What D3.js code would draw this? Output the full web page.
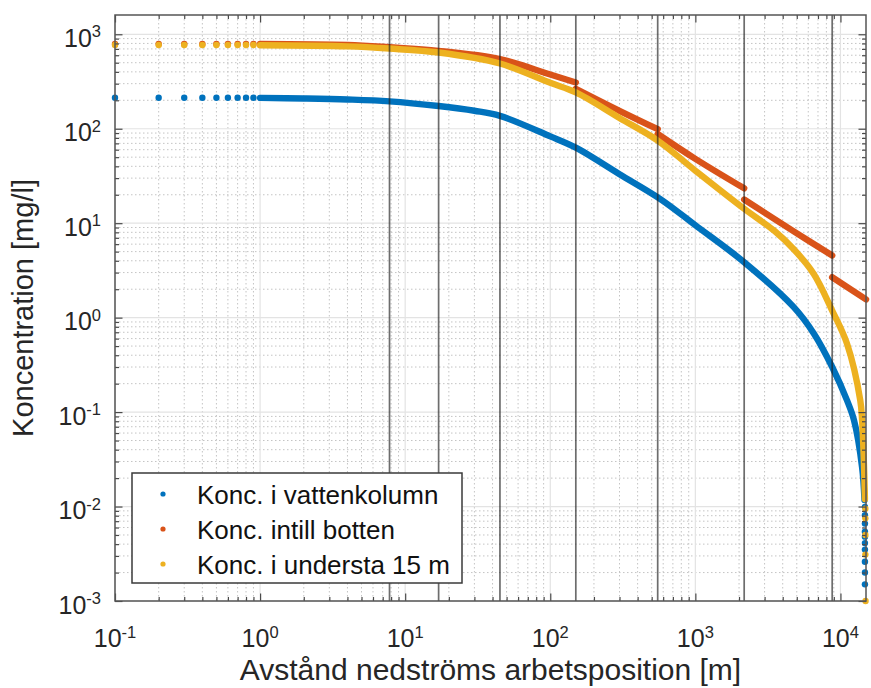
<!DOCTYPE html>
<html>
<head>
<meta charset="utf-8">
<script src="https://cdn.jsdelivr.net/npm/d3@7"></script>
<style>
  body { margin: 0; background: #fff; }
  svg { display: block; font-family: "Liberation Sans", Arial, Helvetica, sans-serif; }
</style>
</head>
<body>
<svg id="chart" width="871" height="688"></svg>
<script>
// Values: distance [m] and concentration [mg/l]
const sparseDist = [0.1, 0.2, 0.3, 0.4, 0.5, 0.6, 0.7, 0.8, 0.9];
const vattenSparse = [213, 213, 213, 213, 213, 213, 213, 213, 213];
const bottenSparse = [790, 790, 790, 790, 790, 790, 790, 790, 790];
const understaSparse = [770, 770, 770, 770, 770, 770, 770, 770, 770];

// dense part of each series (the dots merge into a thick band)
const vattenCurve = [[1, 212], [2, 209], [4, 204], [7.8, 195], [17, 174], [30, 155], [45, 137],
  [100, 83], [150, 63], [300, 33], [574, 18], [1000, 9.5], [2170, 3.86], [4766, 1.29],
  [6550, 0.68], [8770, 0.30], [11100, 0.133], [12400, 0.082], [14100, 0.026], [14650, 0.0117]];

// bottom concentration jumps at each work position
const bottenCurve = [
  [[1, 790], [4, 770], [7.8, 728], [17, 668], [45, 546], [100, 375], [150, 309]],
  [[150, 265], [300, 155], [550, 99]],
  [[550, 88], [1000, 48], [2170, 23.4]],
  [[2170, 17.8], [4766, 8.2], [8770, 4.55]],
  [[8770, 2.68], [15000, 1.56]]
];

const understaCurve = [[1, 765], [4, 745], [7.8, 706], [17, 641], [45, 490], [100, 306],
  [150, 242], [300, 130], [550, 75], [1000, 36], [2170, 14.2], [3500, 8.3], [4766, 5.3],
  [6550, 2.9], [8770, 1.19], [11100, 0.53], [13700, 0.133], [14100, 0.082], [14500, 0.03], [14750, 0.012]];

// last points, stacked at the end of the reach
const vattenTail = [[14750, 0.0099], [14750, 0.0081], [14750, 0.0066], [14750, 0.0054],
  [14750, 0.0048], [14750, 0.0041], [14750, 0.0035], [14750, 0.0026], [14750, 0.0020], [14750, 0.0015]];
const understaTail = [[14850, 0.0095], [14850, 0.0075], [14850, 0.0050], [14850, 0.0031], [14900, 0.001]];

// vertical marker lines (work positions)
const breakDist = [7.8, 17, 45, 150, 550, 2170, 8770];

const xExp = [-1, 0, 1, 2, 3, 4];
const yExp = [-3, -2, -1, 0, 1, 2, 3];

const seriesNames = ['Konc. i vattenkolumn', 'Konc. intill botten', 'Konc. i understa 15 m'];
const seriesColors = ['#0072BD', '#D95319', '#EDB120'];

// layout
const pLeft = 115, pRight = 866, pTop = 15, pBottom = 601;
const svg = d3.select('#chart');

const x = d3.scaleLog().domain([0.1, 15000]).range([pLeft, pRight]);
const y = d3.scaleLog().domain([1e-3, 1600]).range([pBottom, pTop]);

// major and minor tick values
const xMajor = xExp.map(e => Math.pow(10, e));
const yMajor = yExp.map(e => Math.pow(10, e));
const minorOf = (exps, dom) => {
  const out = [];
  exps.forEach(e => d3.range(2, 10).forEach(m => {
    const v = m * Math.pow(10, e);
    if (v > dom[0] && v < dom[1]) out.push(v);
  }));
  return out;
};
const xMinor = minorOf(xExp, x.domain());
const yMinor = minorOf(yExp, y.domain());

svg.append('rect').attr('x', pLeft).attr('y', pTop)
  .attr('width', pRight - pLeft).attr('height', pBottom - pTop).attr('fill', '#fff');

// grid: dotted minor lines first, then solid major ones
const grid = svg.append('g');
grid.selectAll('.xmin').data(xMinor).join('line')
  .attr('x1', d => x(d)).attr('x2', d => x(d)).attr('y1', pTop).attr('y2', pBottom)
  .attr('stroke', '#c4c4c4').attr('stroke-dasharray', '1.5,2.5');
grid.selectAll('.ymin').data(yMinor).join('line')
  .attr('y1', d => y(d)).attr('y2', d => y(d)).attr('x1', pLeft).attr('x2', pRight)
  .attr('stroke', '#c4c4c4').attr('stroke-dasharray', '1.5,2.5');
grid.selectAll('.xmaj').data(xMajor).join('line')
  .attr('x1', d => x(d)).attr('x2', d => x(d)).attr('y1', pTop).attr('y2', pBottom)
  .attr('stroke', '#e3e3e3').attr('stroke-width', 1.2);
grid.selectAll('.ymaj').data(yMajor).join('line')
  .attr('y1', d => y(d)).attr('y2', d => y(d)).attr('x1', pLeft).attr('x2', pRight)
  .attr('stroke', '#e3e3e3').attr('stroke-width', 1.2);

// data: the dense points are drawn as one thick smooth band
const line = d3.line().x(d => x(d[0])).y(d => y(d[1])).curve(d3.curveCatmullRom.alpha(0.5));
const data = svg.append('g');

function band(points, color) {
  data.append('path')
    .attr('d', line(points))
    .attr('fill', 'none')
    .attr('stroke', color)
    .attr('stroke-width', 6.4)
    .attr('stroke-linecap', 'round')
    .attr('stroke-linejoin', 'round');
}
function dots(points, color) {
  data.append('g').selectAll('circle').data(points).join('circle')
    .attr('cx', d => x(d[0])).attr('cy', d => y(d[1])).attr('r', 3.2)
    .attr('fill', color);
}

dots(sparseDist.map((d, i) => [d, vattenSparse[i]]), seriesColors[0]);
band(vattenCurve, seriesColors[0]);
dots(vattenTail, seriesColors[0]);

dots(sparseDist.map((d, i) => [d, bottenSparse[i]]), seriesColors[1]);
bottenCurve.forEach(seg => band(seg, seriesColors[1]));

dots(sparseDist.map((d, i) => [d, understaSparse[i]]), seriesColors[2]);
band(understaCurve, seriesColors[2]);
dots(understaTail, seriesColors[2]);

// vertical lines at the work positions
svg.append('g').selectAll('line').data(breakDist).join('line')
  .attr('x1', d => x(d)).attr('x2', d => x(d)).attr('y1', pTop).attr('y2', pBottom)
  .attr('stroke', 'rgba(30,30,30,0.65)').attr('stroke-width', 1.7);

// ticks pointing inward on all four sides
function tickSet(axis, scale, vals, size, tr) {
  svg.append('g').attr('transform', tr).style('color', '#4a4a4a')
    .call(axis(scale).tickValues(vals).tickSize(size).tickFormat(''))
    .call(g => g.select('.domain').remove())
    .call(g => g.selectAll('line').attr('stroke-width', 1.2));
}
tickSet(d3.axisBottom, x, xMajor, -7.5, `translate(0,${pBottom})`);
tickSet(d3.axisBottom, x, xMinor, -4, `translate(0,${pBottom})`);
tickSet(d3.axisTop, x, xMajor, -7.5, `translate(0,${pTop})`);
tickSet(d3.axisTop, x, xMinor, -4, `translate(0,${pTop})`);
tickSet(d3.axisLeft, y, yMajor, -7.5, `translate(${pLeft},0)`);
tickSet(d3.axisLeft, y, yMinor, -4, `translate(${pLeft},0)`);
tickSet(d3.axisRight, y, yMajor, -7.5, `translate(${pRight},0)`);
tickSet(d3.axisRight, y, yMinor, -4, `translate(${pRight},0)`);

svg.append('rect').attr('x', pLeft).attr('y', pTop)
  .attr('width', pRight - pLeft).attr('height', pBottom - pTop)
  .attr('fill', 'none').attr('stroke', '#555').attr('stroke-width', 1.5);

// tick labels as 10 with superscript exponent
function powLabel(g, e) {
  g.append('tspan').text('10');
  g.append('tspan').attr('font-size', 16.5).attr('dy', -9.5).text(e);
}
const labels = svg.append('g').attr('fill', '#262626').attr('font-size', 25);
xExp.forEach(e => {
  const t = labels.append('text').attr('x', x(Math.pow(10, e))).attr('y', 647)
    .attr('text-anchor', 'middle');
  powLabel(t, e);
});
yExp.forEach(e => {
  const t = labels.append('text').attr('x', 101).attr('y', y(Math.pow(10, e)) + 12.5)
    .attr('text-anchor', 'end');
  powLabel(t, e);
});

// axis titles
svg.append('text').attr('x', (pLeft + pRight) / 2).attr('y', 680)
  .attr('text-anchor', 'middle').attr('font-size', 30).attr('fill', '#262626')
  .text('Avstånd nedströms arbetsposition [m]');
svg.append('text').attr('transform', `translate(33,${(pTop + pBottom) / 2}) rotate(-90)`)
  .attr('text-anchor', 'middle').attr('font-size', 29).attr('fill', '#262626')
  .text('Koncentration [mg/l]');

// legend
const legend = svg.append('g');
legend.append('rect').attr('x', 132).attr('y', 473).attr('width', 330).attr('height', 110)
  .attr('fill', '#fff').attr('stroke', '#3a3a3a').attr('stroke-width', 1.5);
seriesNames.forEach((name, i) => {
  const cy = 494 + i * 35;
  legend.append('circle').attr('cx', 163).attr('cy', cy).attr('r', 2.6).attr('fill', seriesColors[i]);
  legend.append('text').attr('x', 197).attr('y', cy + 9.5)
    .attr('font-size', 26).attr('fill', '#111').text(name);
});
</script>
</body>
</html>
